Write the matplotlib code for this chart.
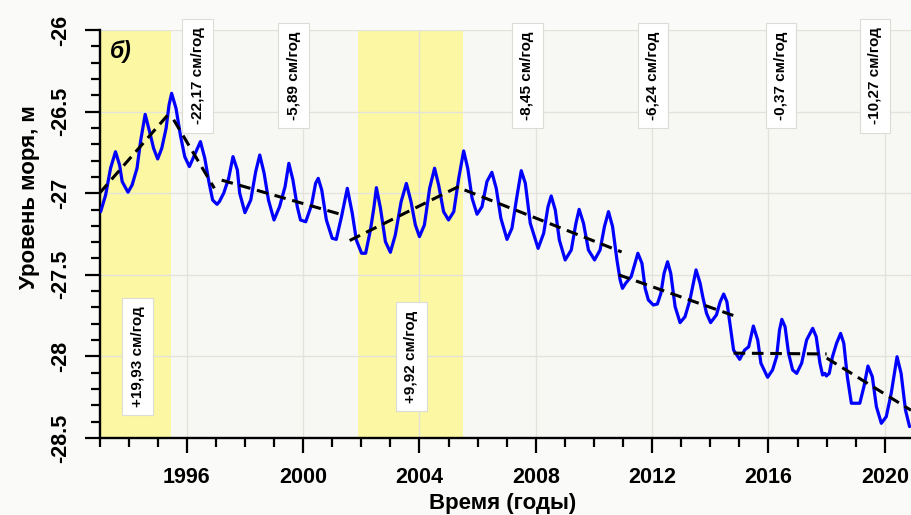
import matplotlib
matplotlib.use("Agg")
import matplotlib.pyplot as plt
from matplotlib.ticker import MultipleLocator, FormatStrFormatter

plt.rcParams['font.family'] = ['Liberation Sans', 'DejaVu Sans']
plt.rcParams['axes.unicode_minus'] = False

# Sea level series (year, metres)
years = [
    1993.04, 1993.21, 1993.38, 1993.55, 1993.69, 1993.78, 1993.98, 1994.12, 1994.29, 1994.41,
    1994.57, 1994.75, 1994.86, 1995.00, 1995.14, 1995.29, 1995.39, 1995.48, 1995.63, 1995.78,
    1995.93, 1996.09, 1996.24, 1996.47, 1996.62, 1996.76, 1996.89, 1997.04, 1997.12, 1997.27,
    1997.44, 1997.59, 1997.74, 1997.82, 1998.00, 1998.20, 1998.37, 1998.51, 1998.66, 1998.81,
    1999.00, 1999.19, 1999.38, 1999.51, 1999.65, 1999.80, 1999.91, 2000.09, 2000.29, 2000.43,
    2000.52, 2000.64, 2000.80, 2001.00, 2001.14, 2001.32, 2001.52, 2001.69, 2001.83, 2002.01,
    2002.15, 2002.32, 2002.43, 2002.52, 2002.66, 2002.83, 2003.00, 2003.17, 2003.37, 2003.55,
    2003.71, 2003.86, 2004.00, 2004.17, 2004.35, 2004.52, 2004.66, 2004.83, 2005.00, 2005.18,
    2005.35, 2005.52, 2005.66, 2005.81, 2005.98, 2006.15, 2006.32, 2006.49, 2006.64, 2006.80,
    2007.01, 2007.18, 2007.35, 2007.50, 2007.64, 2007.81, 2008.08, 2008.27, 2008.42, 2008.53,
    2008.67, 2008.81, 2009.01, 2009.22, 2009.38, 2009.49, 2009.64, 2009.81, 2010.02, 2010.21,
    2010.36, 2010.50, 2010.64, 2010.79, 2010.90, 2010.98, 2011.09, 2011.28, 2011.41, 2011.51,
    2011.65, 2011.76, 2011.87, 2012.04, 2012.18, 2012.30, 2012.41, 2012.53, 2012.64, 2012.79,
    2012.96, 2013.13, 2013.30, 2013.51, 2013.65, 2013.74, 2013.87, 2014.01, 2014.21, 2014.34,
    2014.46, 2014.57, 2014.69, 2014.80, 2015.01, 2015.18, 2015.32, 2015.48, 2015.63, 2015.74,
    2015.97, 2016.14, 2016.28, 2016.38, 2016.46, 2016.57, 2016.69, 2016.83, 2016.97, 2017.14,
    2017.31, 2017.52, 2017.64, 2017.77, 2017.86, 2017.94, 2017.99, 2018.09, 2018.20, 2018.34,
    2018.48, 2018.59, 2018.71, 2018.85, 2019.14, 2019.28, 2019.42, 2019.57, 2019.71, 2019.88,
    2020.05, 2020.22, 2020.42, 2020.56, 2020.71, 2020.85,
]
level = [
    -27.113, -27.011, -26.847, -26.746, -26.827, -26.929, -26.994, -26.950, -26.847, -26.684,
    -26.517, -26.643, -26.725, -26.790, -26.725, -26.602, -26.460, -26.388, -26.480, -26.643,
    -26.776, -26.837, -26.776, -26.684, -26.786, -26.929, -27.042, -27.068, -27.052, -27.000,
    -26.909, -26.776, -26.858, -27.000, -27.119, -27.042, -26.868, -26.766, -26.878, -27.042,
    -27.164, -27.083, -26.960, -26.817, -26.919, -27.083, -27.164, -27.175, -27.072, -26.939,
    -26.909, -26.980, -27.164, -27.276, -27.283, -27.144, -26.970, -27.123, -27.287, -27.368,
    -27.368, -27.220, -27.093, -26.966, -27.093, -27.297, -27.362, -27.256, -27.052, -26.940,
    -27.052, -27.195, -27.266, -27.195, -26.970, -26.847, -26.950, -27.113, -27.164, -27.113,
    -26.909, -26.741, -26.847, -27.031, -27.129, -27.083, -26.929, -26.872, -26.970, -27.154,
    -27.283, -27.215, -27.021, -26.862, -26.939, -27.184, -27.338, -27.246, -27.083, -27.017,
    -27.103, -27.287, -27.409, -27.348, -27.184, -27.099, -27.184, -27.348, -27.409, -27.348,
    -27.205, -27.113, -27.205, -27.409, -27.532, -27.583, -27.552, -27.511, -27.430, -27.368,
    -27.430, -27.583, -27.654, -27.685, -27.679, -27.614, -27.491, -27.420, -27.491, -27.695,
    -27.793, -27.757, -27.654, -27.470, -27.552, -27.634, -27.736, -27.793, -27.746, -27.665,
    -27.618, -27.665, -27.818, -27.961, -28.018, -27.961, -27.941, -27.814, -27.900, -28.042,
    -28.128, -28.083, -28.002, -27.838, -27.773, -27.818, -27.981, -28.083, -28.104, -28.042,
    -27.900, -27.828, -27.879, -28.042, -28.114, -28.104, -28.120, -28.104, -28.002, -27.920,
    -27.859, -27.920, -28.124, -28.287, -28.287, -28.186, -28.059, -28.124, -28.308, -28.410,
    -28.369, -28.226, -28.002, -28.104, -28.328, -28.430,
]

# Piecewise linear trends: start/end years and levels
trend_x0 = [1993.00, 1995.55, 1997.20, 2001.60, 2005.55, 2010.85, 2014.80, 2018.00]
trend_x1 = [1995.45, 1996.95, 2001.40, 2005.45, 2010.95, 2014.80, 2018.00, 2020.90]
trend_y0 = [-27.00, -26.55, -26.92, -27.29, -26.98, -27.50, -27.98, -28.01]
trend_y1 = [-26.50, -26.97, -27.135, -26.95, -27.36, -27.75, -27.985, -28.33]

# Periods of sea level rise
rise_start = [1993.0, 2001.9]
rise_end = [1995.45, 2005.5]

# Trend rate annotations
rate_text = ["-22,17 см/год", "-5,89 см/год", "-8,45 см/год", "-6,24 см/год",
             "-0,37 см/год", "-10,27 см/год", "+19,93 см/год", "+9,92 см/год"]
rate_x = [1996.38, 1999.67, 2007.71, 2012.03, 2016.43, 2019.66, 1994.32, 2003.72]
rate_y = [-26.28, -26.28, -26.28, -26.28, -26.28, -26.28, -28.0, -28.0]

fig = plt.figure(figsize=(9.11, 5.15), dpi=100, facecolor='#fafaf8')
ax = fig.add_axes([99.5 / 911, 77 / 515, (911 - 99.5) / 911, 408 / 515])
ax.set_facecolor('#f7f7f4')

ax.set_xlim(1993.0, 2020.9)
ax.set_ylim(-28.5, -26.0)

for s, e in zip(rise_start, rise_end):
    ax.axvspan(s, e, color='#fbf7a2', zorder=0.5, lw=0)

ax.xaxis.set_major_locator(MultipleLocator(4))
ax.xaxis.set_minor_locator(MultipleLocator(1))
ax.yaxis.set_major_locator(MultipleLocator(0.5))
ax.yaxis.set_minor_locator(MultipleLocator(0.1))
ax.xaxis.set_major_formatter(FormatStrFormatter('%d'))
ax.yaxis.set_major_formatter(FormatStrFormatter('%g'))

ax.grid(True, which='major', color='#e3e3dc', lw=1.0, zorder=0.6)
ax.set_axisbelow(True)

for side in ('top', 'right'):
    ax.spines[side].set_visible(False)
for side in ('left', 'bottom'):
    ax.spines[side].set_linewidth(1.7)
    ax.spines[side].set_color('black')

ax.tick_params(which='major', direction='out', length=10.8, width=1.6, color='black')
ax.tick_params(which='minor', direction='out', length=6.5, width=1.6, color='black')
ax.tick_params(axis='x', which='major', pad=10, labelsize=15.5)
ax.tick_params(axis='y', which='major', pad=9.5, labelsize=15.5)
for lab in ax.get_xticklabels():
    lab.set_fontweight('bold')
for lab in ax.get_yticklabels():
    lab.set_fontweight('bold')
    lab.set_rotation(90)
    lab.set_va('center')

ax.plot(years, level, color='#0000ff', lw=2.3, zorder=3,
        solid_joinstyle='round', solid_capstyle='round')

for x0, x1, y0, y1 in zip(trend_x0, trend_x1, trend_y0, trend_y1):
    ax.plot([x0, x1], [y0, y1], color='black', lw=2.2, linestyle=(0, (3.8, 2.2)),
            zorder=4, dash_capstyle='butt')

for t, x, y in zip(rate_text, rate_x, rate_y):
    ax.text(x, y, t, rotation=90, ha='center', va='center', fontsize=11,
            fontweight='bold', color='black', zorder=5, clip_on=False,
            bbox=dict(boxstyle='square,pad=0.55', facecolor='white',
                      edgecolor='#dcdcd6', lw=0.8))

ax.text(1993.36, -26.13, 'б)', fontsize=16.5, fontweight='bold', fontstyle='italic',
        ha='left', va='center', zorder=5)

fig.text(503 / 911, 1 - 503 / 515, 'Время (годы)', ha='center', va='center',
         fontsize=16, fontweight='bold')
fig.text(30 / 911, 1 - 197 / 515, 'Уровень моря, м', ha='center', va='center',
         rotation=90, fontsize=16, fontweight='bold')

fig.savefig('out.png', dpi=100, facecolor=fig.get_facecolor())
